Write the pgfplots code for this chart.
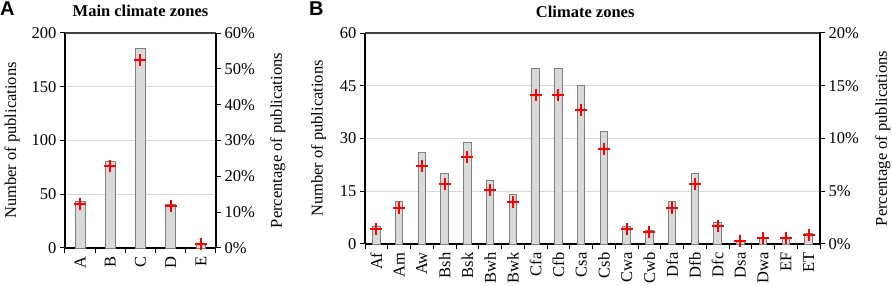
\documentclass[border=0pt]{standalone}
\usepackage{pgfplots}
\pgfplotsset{compat=1.18}
\usepackage{fontspec}
\setmainfont{Liberation Serif}
\newfontfamily\panelfont{Liberation Sans}
\definecolor{barfill}{HTML}{D9D9D9}
\definecolor{baredge}{HTML}{7F7F7F}
\definecolor{gridc}{HTML}{D9D9D9}
\pgfplotsset{
  base/.style={scale only axis, anchor=south west, ymin=0,
    tick align=outside, major tick length=5pt, minor tick length=5pt,
    tick style={black, line width=1pt},
    axis line style={black, line width=1.2pt, -},
    /pgf/number format/assume math mode=true,
    tick label style={font=\fontsize{16.5}{19}\selectfont},
    label style={font=\fontsize{16.5}{19}\selectfont},
    title style={font=\fontsize{16.5}{19}\selectfont\bfseries, anchor=base, yshift=10pt},
    clip=false},
  leftax/.style={base, axis y line*=left, axis x line*=bottom,
    ymajorgrids, grid style={gridc, line width=0.8pt},
    x tick label style={rotate=90, anchor=east},
    major x tick style={draw=none}},
  rightax/.style={base, axis y line*=right, axis x line*=top, xtick=\empty,
    x axis line style={black!75}},
  bars/.style={ybar, bar width=0.33, fill=barfill, draw=baredge, line width=0.8pt},
  crosses/.style={only marks, mark=+, mark size=6pt, mark options={red, line width=2pt}},
}
\begin{document}
\begin{tikzpicture}
\useasboundingbox (0pt,0pt) rectangle (892pt,286pt);
\node[anchor=north west, inner sep=0pt, font=\panelfont\bfseries\fontsize{20}{22}\selectfont] at (0pt,284pt) {A};
\node[anchor=north west, inner sep=0pt, font=\panelfont\bfseries\fontsize{20}{22}\selectfont] at (309pt,284pt) {B};

% Panel A
\begin{axis}[leftax, at={(65pt,38pt)}, width=151pt, height=215pt,
  xmin=-0.5, xmax=4.5, ymax=200, ytick={0,50,...,200},
  xtick={0,...,4}, xticklabels={A,B,C,D,E},
  minor xtick={-0.5,0.5,...,4.5},
  title={Main climate zones},
  ylabel={Number of publications},
  ylabel style={at={(axis description cs:-0.351,0.5)}, anchor=center}]
\addplot[bars] coordinates {(0,43) (1,81) (2,186) (3,41) (4,4)};
\end{axis}
\begin{axis}[rightax, at={(65pt,38pt)}, width=151pt, height=215pt,
  xmin=-0.5, xmax=4.5, ymax=60, ytick={0,10,...,60},
  yticklabels={0\%,10\%,20\%,30\%,40\%,50\%,60\%},
  ylabel={Percentage of publications},
  ylabel style={at={(axis description cs:1.41,0.5)}, anchor=center}]
\addplot[crosses] coordinates {(0,12.2) (1,22.9) (2,52.5) (3,11.6) (4,1.2)};
\end{axis}

% Panel B
\begin{axis}[leftax, at={(365pt,42pt)}, width=455pt, height=211pt,
  xmin=-0.5, xmax=19.5, ymax=60, ytick={0,15,...,60},
  xtick={0,...,19},
  xticklabels={Af,Am,Aw,Bsh,Bsk,Bwh,Bwk,Cfa,Cfb,Csa,Csb,Cwa,Cwb,Dfa,Dfb,Dfc,Dsa,Dwa,EF,ET},
  minor xtick={-0.5,0.5,...,19.5},
  title={Climate zones},
  title style={at={(0.484,1)}},
  ylabel={Number of publications},
  ylabel style={at={(axis description cs:-0.102,0.5)}, anchor=center}]
\addplot[bars] coordinates {(0,5) (1,12) (2,26) (3,20) (4,29) (5,18) (6,14) (7,50) (8,50) (9,45)
  (10,32) (11,5) (12,4) (13,12) (14,20) (15,6) (16,1) (17,2) (18,2) (19,3)};
\end{axis}
\begin{axis}[rightax, at={(365pt,42pt)}, width=455pt, height=211pt,
  xmin=-0.5, xmax=19.5, ymax=20, ytick={0,5,...,20},
  yticklabels={0\%,5\%,10\%,15\%,20\%},
  ylabel={Percentage of publications},
  ylabel style={at={(axis description cs:1.138,0.5)}, anchor=center}]
\addplot[crosses] coordinates {(0,1.42) (1,3.40) (2,7.37) (3,5.67) (4,8.22) (5,5.10) (6,3.97) (7,14.1) (8,14.1) (9,12.7)
  (10,9.05) (11,1.42) (12,1.13) (13,3.40) (14,5.67) (15,1.70) (16,0.28) (17,0.57) (18,0.57) (19,0.85)};
\end{axis}
\end{tikzpicture}
\end{document}
